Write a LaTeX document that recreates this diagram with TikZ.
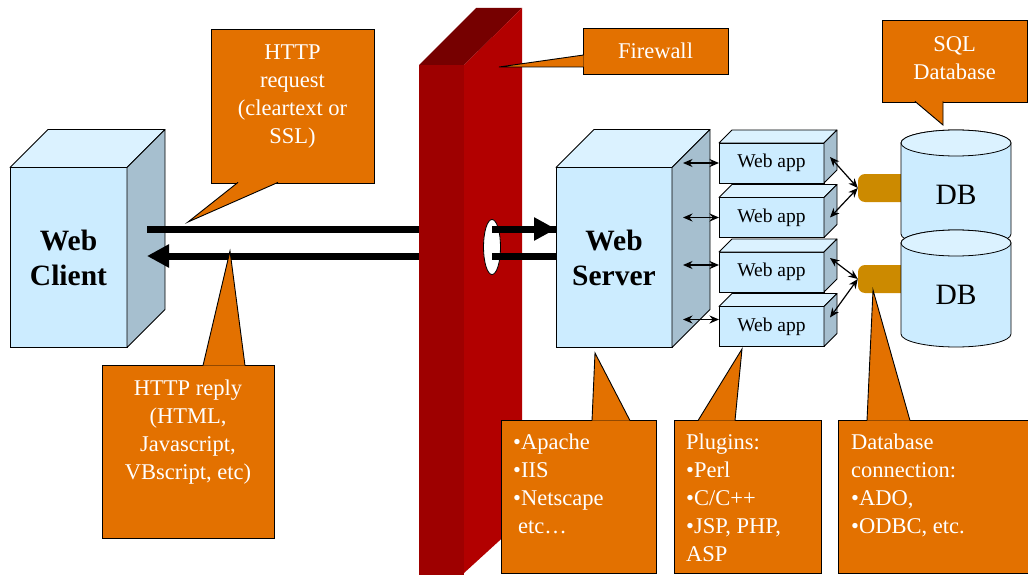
\documentclass[tikz,border=0pt]{standalone}
\usepackage{fontspec}
\setmainfont{Liberation Serif}
\usepackage{tikz}
\usetikzlibrary{
  arrows.meta,
  shapes.geometric,
  positioning
}
\definecolor{frontblue}{RGB}{204,236,255}
\definecolor{topblue}{RGB}{219,242,255}
\definecolor{sideblue}{RGB}{166,191,207}
\definecolor{wallfront}{RGB}{158,0,0}
\definecolor{wallside}{RGB}{178,0,0}
\definecolor{walltop}{RGB}{118,0,0}
\definecolor{callorange}{RGB}{227,113,0}
\definecolor{plugyellow}{RGB}{204,138,0}

\begin{document}
\begin{tikzpicture}[
      x=1pt, y=-1pt,
      front/.style={
         rectangle,
         draw=black, line width=0.8pt,
         fill=frontblue,
         inner sep=0pt, outer sep=0pt
      },
      topface/.style={draw=black, line width=0.8pt, fill=topblue, line join=round},
      sideface/.style={draw=black, line width=0.8pt, fill=sideblue, line join=round},
      host/.style={
         front,
         minimum width=117pt, minimum height=180pt,
         align=center,
         font=\bfseries\fontsize{29.5}{35}\selectfont
      },
      webapp/.style={
         front,
         minimum width=105pt, minimum height=40pt,
         font=\fontsize{19.5}{22}\selectfont
      },
      wallface/.style={rectangle, fill=wallfront, inner sep=0pt, outer sep=0pt},
      hole/.style={ellipse, draw=black, line width=0.8pt, fill=white,
         minimum width=17pt, minimum height=55pt, inner sep=0pt},
      bigline/.style={line width=7pt, black},
      bigarrow/.style={bigline, -{Triangle[length=22pt,width=22pt]}},
      >={Stealth[length=9.5pt,width=8pt]},
      link/.style={<->, line width=1.2pt},
      plug/.style={rectangle, fill=plugyellow, rounded corners=7pt,
         minimum width=54pt, minimum height=28pt},
      cylbody/.style={draw=black, line width=0.8pt, fill=frontblue},
      cyltop/.style={draw=black, line width=0.8pt, fill=topblue},
      dbtext/.style={font=\fontsize{29.5}{35}\selectfont},
      callbox/.style={
         rectangle,
         draw=black, line width=0.9pt,
         fill=callorange,
         inner sep=0pt, outer sep=0pt
      },
      calltip/.style={fill=callorange, draw=black, line width=0.9pt},
      calltext/.style={
         text=white, inner sep=0pt,
         font=\fontsize{22.5}{28}\selectfont
      }
    ]
    \useasboundingbox (0,0) rectangle (1028,575);

    % hosts and web apps
    \node[host] (client) at (68.5,257.5) {Web\\Client};
    \node[host, minimum width=116pt] (server) at (614,257.5) {Web\\Server};
    \node[webapp] (app1) at (771.5,163) {Web app};
    \node[webapp] (app2) at (771.5,217.5) {Web app};
    \node[webapp] (app3) at (771.5,272) {Web app};
    \node[webapp] (app4) at (771.5,326.5) {Web app};
    \foreach \b/\d in {client/38,server/38,app1/13,app2/13,app3/13,app4/13} {
      \draw[topface] (\b.north west) -- ++(\d,-\d)
         -- ([shift={(\d,-\d)}]\b.north east) -- (\b.north east) -- cycle;
      \draw[sideface] (\b.north east) -- ++(\d,-\d)
         -- ([shift={(\d,-\d)}]\b.south east) -- (\b.south east) -- cycle;
    }

    % traffic behind the firewall
    \coordinate (reqL) at ([xshift=20pt,yshift=28.5pt]client.east);
    \coordinate (repL) at ([xshift=20pt,yshift=1.5pt]client.east);
    \draw[bigline] (reqL) -- (reqL -| server.west);
    \draw[bigarrow] (repL -| server.west) -- (repL);

    % firewall
    \node[wallface, minimum width=45pt, minimum height=530pt, anchor=north west] (wall) at (419,65) {};
    \fill[walltop] (wall.north west) -- ++(57,-57) -- ++(46,0) -- (wall.north east) -- cycle;
    \fill[wallside] (wall.north east) -- ++(58,-57) -- ++(0,512) -- ++(-58,53) -- cycle;
    \node[hole] (hole) at (492,247) {};
    \draw[bigarrow] (reqL -| hole.center) -- (reqL -| server.west);
    \draw[bigline] (repL -| hole.center) -- (repL -| server.west);

    % server to web apps
    \coordinate (srvside) at ([xshift=11pt]server.east);
    \foreach \a/\s in {app1/0,app2/0,app3/7,app4/7} {
      \path ([yshift=\s pt]\a.west) coordinate (t) (srvside |- t) coordinate (s);
      \draw[link] (s) -- (t);
    }

    % databases
    \node[plug] (plug1) at (885,188) {};
    \node[plug] (plug2) at (885,279) {};
    \foreach \n/\y in {db1/195,db2/295} {
      \draw[cylbody] (901,{\y-52}) -- (901,{\y+39})
         arc[start angle=180, end angle=360, x radius=55pt, y radius=13pt]
         -- (1011,{\y-52})
         arc[start angle=0, end angle=180, x radius=55pt, y radius=13pt] -- cycle;
      \draw[cyltop] (956,{\y-52}) ellipse[x radius=55pt, y radius=13pt];
      \node[dbtext] (\n) at (956,\y) {DB};
    }
    \draw[link] ([xshift=6pt,yshift=6pt]app1.east) -- (plug1.west);
    \draw[link] ([xshift=6pt]app2.east) -- (plug1.west);
    \draw[link] ([xshift=6pt,yshift=14pt]app3.east) -- (plug2.west);
    \draw[link] ([xshift=6pt,yshift=9pt]app4.east) -- (plug2.west);

    % callouts
    \node[callbox, minimum width=163pt, minimum height=154pt] (req) at (292.5,106) {};
    \coordinate (reqtip) at (188,222);
    \path[calltip] ([xshift=27pt,yshift=0.6pt]req.south west) -- (reqtip)
       -- ([xshift=67pt,yshift=0.6pt]req.south west);
    \node[calltext, align=center, below=16pt of req.north] (reqtext)
       {HTTP\\request\\(cleartext or\\SSL)};

    \node[callbox, minimum width=172pt, minimum height=173pt] (reply) at (188,451.5) {};
    \coordinate (replytip) at (230,251);
    \path[calltip] ([xshift=101pt,yshift=-0.6pt]reply.north west) -- (replytip)
       -- ([xshift=143pt,yshift=-0.6pt]reply.north west);
    \node[calltext, align=center, below=15pt of reply.north] (replytext)
       {HTTP reply\\(HTML,\\Javascript,\\VBscript, etc)};

    \node[callbox, minimum width=145pt, minimum height=46pt] (fwlabel) at (655.5,51) {};
    \coordinate (fwtip) at (499,67);
    \path[calltip] ([xshift=0.6pt,yshift=-4pt]fwlabel.west) -- (fwtip)
       -- ([xshift=0.6pt,yshift=-16pt]fwlabel.west);
    \node[calltext] (fwtext) at (fwlabel) {Firewall};

    \node[callbox, minimum width=145pt, minimum height=82pt] (sql) at (954.5,61) {};
    \coordinate (sqltip) at (943,125);
    \path[calltip] ([xshift=33pt,yshift=0.6pt]sql.south west) -- (sqltip)
       -- ([xshift=61pt,yshift=0.6pt]sql.south west);
    \node[calltext, align=center, below=16pt of sql.north] (sqltext) {SQL\\Database};

    \node[callbox, minimum width=155pt, minimum height=153pt] (apache) at (578.5,496.5) {};
    \coordinate (apachetip) at (595,353);
    \path[calltip] ([xshift=91pt,yshift=-0.6pt]apache.north west) -- (apachetip)
       -- ([xshift=129pt,yshift=-0.6pt]apache.north west);
    \node[calltext, align=left, below right=14pt and 12pt of apache.north west] (apachetext)
       {•Apache\\•IIS\\•Netscape\\\hspace*{5pt}etc…};

    \node[callbox, minimum width=147pt, minimum height=153pt] (plugins) at (747.5,496.5) {};
    \coordinate (pluginstip) at (742,349);
    \path[calltip] ([xshift=24pt,yshift=-0.6pt]plugins.north west) -- (pluginstip)
       -- ([xshift=61pt,yshift=-0.6pt]plugins.north west);
    \node[calltext, align=left, below right=14pt and 12pt of plugins.north west] (pluginstext)
       {Plugins:\\•Perl\\•C/C++\\•JSP, PHP,\\ASP};

    \node[callbox, minimum width=192pt, minimum height=153pt] (dbconn) at (934,496.5) {};
    \coordinate (dbconntip) at (873,290);
    \path[calltip] ([xshift=29pt,yshift=-0.6pt]dbconn.north west) -- (dbconntip)
       -- ([xshift=72pt,yshift=-0.6pt]dbconn.north west);
    \node[calltext, align=left, below right=14pt and 13pt of dbconn.north west] (dbconntext)
       {Database\\connection:\\•ADO,\\•ODBC, etc.};
\end{tikzpicture}
\end{document}
